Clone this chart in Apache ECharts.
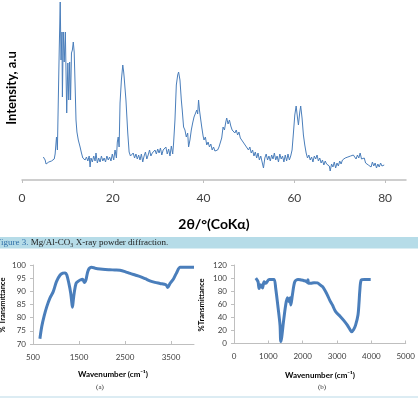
<!DOCTYPE html>
<html>
<head>
<meta charset="utf-8">
<title>Mg/Al-CO3 XRD and FTIR</title>
<script src="https://cdn.jsdelivr.net/npm/echarts@6/dist/echarts.min.js"></script>
<style>
  html, body { margin: 0; padding: 0; background: #fff; }
  #chart { width: 418px; height: 398px; }
</style>
</head>
<body>
<div id="chart"></div>
<script>
// XRD pattern: [2theta, intensity (a.u.)]
var xrdData = [
  [4.7,23],[4.9,25],[5.1,20],[5.3,16],[5.6,18],[5.9,18],[6.2,19],[6.5,19],[6.8,20],[7.1,21],[7.3,26],
  [7.6,43],[7.8,30],[8.0,80],[8.2,130],[8.42,178],[8.6,120],[8.8,148],[8.9,83],[9.1,148],[9.3,118],
  [9.55,148],[9.85,67],[10.1,117],[10.3,80],[10.5,118],[10.7,80],[10.9,127],[11.1,130],[11.3,138],
  [11.5,128],[11.7,95],[11.9,60],[12.1,48],[12.4,40],[12.8,33],[13.1,27],[13.4,22],[13.6,24],
  [13.9,20],[14.2,23],[14.5,19],[14.8,24],[15.0,13],[15.2,22],[15.5,18],[15.8,24],[16.1,19],[16.3,27],
  [16.6,17],[16.9,22],[17.2,18],[17.5,24],[17.8,19],[18.1,22],[18.4,18],[18.7,24],[19.0,20],[19.3,23],
  [19.6,19],[19.9,26],[20.2,20],[20.5,30],[20.8,22],[21.0,38],[21.2,43],[21.4,33],[21.6,77],[21.9,100],
  [22.2,115],[22.4,108],[22.5,103],[22.7,105],[22.9,80],[23.3,47],[23.6,28],[23.9,24],[24.2,22],
  [24.5,27],[24.8,22],[25.1,26],[25.4,21],[25.7,25],[26.0,20],[26.3,26],[26.6,18],[26.9,24],[27.2,28],
  [27.5,21],[27.8,25],[28.1,30],[28.4,24],[28.7,27],[29.0,25],[29.3,30],[29.6,26],[29.9,31],[30.2,27],
  [30.5,32],[30.8,25],[31.1,30],[31.4,28],[31.7,33],[32.0,26],[32.3,31],[32.6,24],[32.9,34],[33.2,26],
  [33.4,37],[33.7,60],[34.0,95],[34.3,105],[34.5,108],[34.8,100],[35.1,80],[35.3,70],[35.6,53],
  [35.9,50],[36.2,43],[36.5,47],[36.7,33],[37.0,40],[37.3,50],[37.6,57],[37.9,63],[38.2,61],[38.5,70],
  [38.7,66],[38.9,80],[39.1,70],[39.3,63],[39.6,53],[39.9,44],[40.1,40],[40.4,43],[40.7,35],[41.0,38],
  [41.3,33],[41.6,36],[41.9,30],[42.2,33],[42.5,29],[42.8,27],[43.1,30],[43.4,33],[43.7,35],[44.0,42],
  [44.3,53],[44.6,50],[44.9,58],[45.1,62],[45.4,56],[45.7,60],[46.0,54],[46.3,50],[46.6,52],[46.9,47],
  [47.2,50],[47.5,45],[47.8,48],[48.1,42],[48.4,44],[48.7,38],[49.0,40],[49.3,34],[49.6,36],[49.9,30],
  [50.2,33],[50.5,27],[50.8,30],[51.1,24],[51.4,28],[51.7,22],[52.0,27],[52.3,20],[52.6,24],[52.9,18],
  [53.2,12],[53.5,22],[53.8,26],[54.1,20],[54.4,24],[54.7,19],[55.0,25],[55.3,21],[55.6,27],[55.9,20],
  [56.2,24],[56.5,18],[56.8,26],[57.1,21],[57.4,24],[57.7,18],[58.0,25],[58.3,19],[58.6,26],[58.9,20],
  [59.2,24],[59.5,30],[59.8,47],[60.1,65],[60.4,74],[60.7,62],[60.9,55],[61.2,68],[61.4,74],[61.7,62],
  [62.0,45],[62.3,35],[62.6,27],[62.9,22],[63.2,25],[63.5,20],[63.8,23],[64.1,18],[64.4,24],[64.7,21],
  [65.0,25],[65.3,19],[65.6,22],[65.9,17],[66.2,20],[66.5,15],[66.8,19],[67.1,16],[67.4,18],[67.7,14],
  [67.9,9],[68.2,16],[68.5,13],[68.8,18],[69.1,12],[69.4,17],[69.7,14],[70.0,19],[70.3,16],[70.6,20],
  [70.9,18],[71.2,22],[71.5,20],[71.8,23],[72.1,21],[72.4,24],[72.7,22],[73.0,25],[73.3,27],[73.6,21],
  [73.9,25],[74.2,22],[74.5,27],[74.8,21],[75.1,19],[75.4,22],[75.7,17],[76.0,19],[76.3,15],[76.6,17],
  [76.9,13],[77.2,18],[77.5,14],[77.8,17],[78.1,12],[78.4,16],[78.7,13],[79.0,17],[79.3,14],[79.6,16],
  [79.8,15]
];
var xrdTicks = [0, 20, 40, 60, 80];

// FTIR (a): [wavenumber, %T]
var ftirA = [
  [650,72],[690,76.6],[740,80.5],[800,84.2],[870,87.5],[940,89.9],[1010,93.7],[1090,96.2],[1150,96.9],
  [1200,97],[1235,96.2],[1280,93],[1320,89.3],[1345,85.5],[1358,84],[1375,86.5],[1395,89.3],
  [1435,93],[1480,93.8],[1525,94.3],[1580,94.6],[1615,93.4],[1650,94.3],[1700,98],[1775,99.1],
  [1850,98.8],[1960,98.5],[2070,98.3],[2170,98.2],[2280,98.1],[2390,98],[2500,97.5],[2610,96.8],
  [2720,96.2],[2830,95.6],[2940,94.8],[3040,94],[3150,93.4],[3260,93],[3390,92.5],[3430,91.5],
  [3480,93],[3550,94.6],[3620,97],[3700,99.1],[3850,99.1],[4000,99.1]
];
var ftirATicks = [500, 1500, 2500, 3500];

// FTIR (b): [wavenumber, %T]
var ftirB = [
  [635,100],[700,94.5],[730,84],[780,90],[830,85],[875,94.5],[925,92],[1020,98],[1100,98],
  [1170,98],[1215,84],[1285,54],[1340,28],[1362,3],[1390,10],[1440,33],[1505,59],[1555,70],
  [1600,64],[1635,70],[1655,59],[1700,74],[1770,94.5],[1865,98],[1960,97],[2040,96],[2100,95],
  [2140,93],[2155,97.5],[2170,92],[2235,92],[2330,93],[2430,92.6],[2500,90],[2575,87],[2650,81],
  [2720,74],[2790,66],[2865,59],[2960,48.6],[3100,41],[3200,35],[3300,28],[3380,21],[3425,18],
  [3480,21],[3540,28],[3610,43.6],[3640,62],[3665,82],[3705,97],[3800,98],[3980,98]
];
var ftirBTicks = [0, 1000, 2000, 3000, 4000, 5000];

var lineBlue = '#4a7ebb';
var axisGray = '#bfbfbf';
var labelColor = '#404040';
var sansFont = 'Lato, "Open Sans", sans-serif';

function plainNum(v) {
    return String(v);
}

var myChart = echarts.init(document.querySelector('#chart'), null, { renderer: 'canvas' });

var option = {
    animation: false,
    backgroundColor: '#fff',
    grid: [
        { left: 22, width: 384, top: 0, height: 180 },
        { left: 33, width: 161, top: 265, height: 79 },
        { left: 234, width: 172, top: 265, height: 78.5 }
    ],
    xAxis: [
        {
            gridIndex: 0, type: 'value', min: 0, max: 84.6,
            splitLine: { show: false },
            axisLine: { lineStyle: { color: axisGray, width: 1.5 } },
            axisTick: { show: true, length: 3, customValues: xrdTicks, lineStyle: { color: axisGray } },
            axisLabel: { customValues: xrdTicks, formatter: plainNum, color: labelColor, fontSize: 12, fontFamily: sansFont, margin: 12 }
        },
        {
            gridIndex: 1, type: 'value', min: 500, max: 4000,
            splitLine: { show: false },
            axisLine: { lineStyle: { color: axisGray } },
            axisTick: { show: true, length: 3, inside: true, customValues: ftirATicks, lineStyle: { color: axisGray } },
            axisLabel: { customValues: ftirATicks, formatter: plainNum, color: labelColor, fontSize: 8, fontFamily: sansFont, margin: 9 }
        },
        {
            gridIndex: 2, type: 'value', min: 0, max: 5000,
            splitLine: { show: false },
            axisLine: { lineStyle: { color: axisGray } },
            axisTick: { show: true, length: 3, inside: true, customValues: ftirBTicks, lineStyle: { color: axisGray } },
            axisLabel: { customValues: ftirBTicks, formatter: plainNum, color: labelColor, fontSize: 8, fontFamily: sansFont, margin: 9 }
        }
    ],
    yAxis: [
        { gridIndex: 0, type: 'value', min: 0, max: 180, show: false },
        {
            gridIndex: 1, type: 'value', min: 70, max: 100, interval: 5,
            splitLine: { show: false },
            axisLine: { show: true, lineStyle: { color: axisGray } },
            axisTick: { show: true, length: 3, lineStyle: { color: axisGray } },
            axisLabel: { formatter: plainNum, color: labelColor, fontSize: 8, fontFamily: sansFont, margin: 7 }
        },
        {
            gridIndex: 2, type: 'value', min: 0, max: 120, interval: 20,
            splitLine: { show: false },
            axisLine: { show: true, lineStyle: { color: axisGray } },
            axisTick: { show: true, length: 3, lineStyle: { color: axisGray } },
            axisLabel: { formatter: plainNum, color: labelColor, fontSize: 8, fontFamily: sansFont, margin: 7 }
        }
    ],
    series: [
        {
            type: 'line', xAxisIndex: 0, yAxisIndex: 0, data: xrdData,
            showSymbol: false, lineStyle: { color: lineBlue, width: 1 }
        },
        {
            type: 'line', xAxisIndex: 1, yAxisIndex: 1, data: ftirA, smooth: 0.3,
            showSymbol: false, lineStyle: { color: lineBlue, width: 3 }
        },
        {
            type: 'line', xAxisIndex: 2, yAxisIndex: 2, data: ftirB, smooth: 0.3,
            showSymbol: false, lineStyle: { color: lineBlue, width: 3 }
        }
    ],
    graphic: [
        // top chart axis titles
        {
            type: 'text', x: 12, y: 88, rotation: Math.PI / 2,
            style: { text: 'Intensity, a.u', fill: '#000', font: 'bold 13px ' + sansFont, align: 'center', verticalAlign: 'middle' }
        },
        {
            type: 'text', x: 214, y: 224,
            style: { text: '2θ/°(CoKα)', fill: '#000', font: 'bold 14px ' + sansFont, align: 'center', verticalAlign: 'middle' }
        },
        // caption bar
        {
            type: 'rect', shape: { x: 0, y: 237, width: 418, height: 11.5 },
            style: { fill: '#b6dce8' }
        },
        {
            type: 'text', x: -4, y: 243,
            style: {
                text: '{f|Figure 3.} Mg/Al-CO₃ X-ray powder diffraction.',
                fill: '#1a1a1a', font: '9px "Liberation Serif", serif', verticalAlign: 'middle',
                rich: { f: { fill: '#2f6fa8', font: '9px "Liberation Serif", serif' } }
            }
        },
        // bottom charts axis titles
        {
            type: 'text', x: 3, y: 305, rotation: Math.PI / 2,
            style: { text: '% Transmittance', fill: '#000', font: 'bold 7.5px ' + sansFont, align: 'center', verticalAlign: 'middle' }
        },
        {
            type: 'text', x: 202, y: 305, rotation: Math.PI / 2,
            style: { text: '%Transmittance', fill: '#000', font: 'bold 7.5px ' + sansFont, align: 'center', verticalAlign: 'middle' }
        },
        {
            type: 'text', x: 113, y: 374,
            style: { text: 'Wavenumber (cm⁻¹)', fill: '#000', font: 'bold 8px ' + sansFont, align: 'center', verticalAlign: 'middle' }
        },
        {
            type: 'text', x: 320, y: 375.5,
            style: { text: 'Wavenumber (cm⁻¹)', fill: '#000', font: 'bold 8px ' + sansFont, align: 'center', verticalAlign: 'middle' }
        },
        {
            type: 'text', x: 100, y: 387,
            style: { text: '(a)', fill: '#333', font: '7px "Liberation Serif", serif', align: 'center', verticalAlign: 'middle' }
        },
        {
            type: 'text', x: 322, y: 387,
            style: { text: '(b)', fill: '#333', font: '7px "Liberation Serif", serif', align: 'center', verticalAlign: 'middle' }
        },
        // thin rule at the bottom of the figure
        {
            type: 'rect', shape: { x: 0, y: 396, width: 418, height: 2 },
            style: { fill: '#dcecf3' }
        }
    ]
};

myChart.setOption(option, true);
</script>
</body>
</html>
